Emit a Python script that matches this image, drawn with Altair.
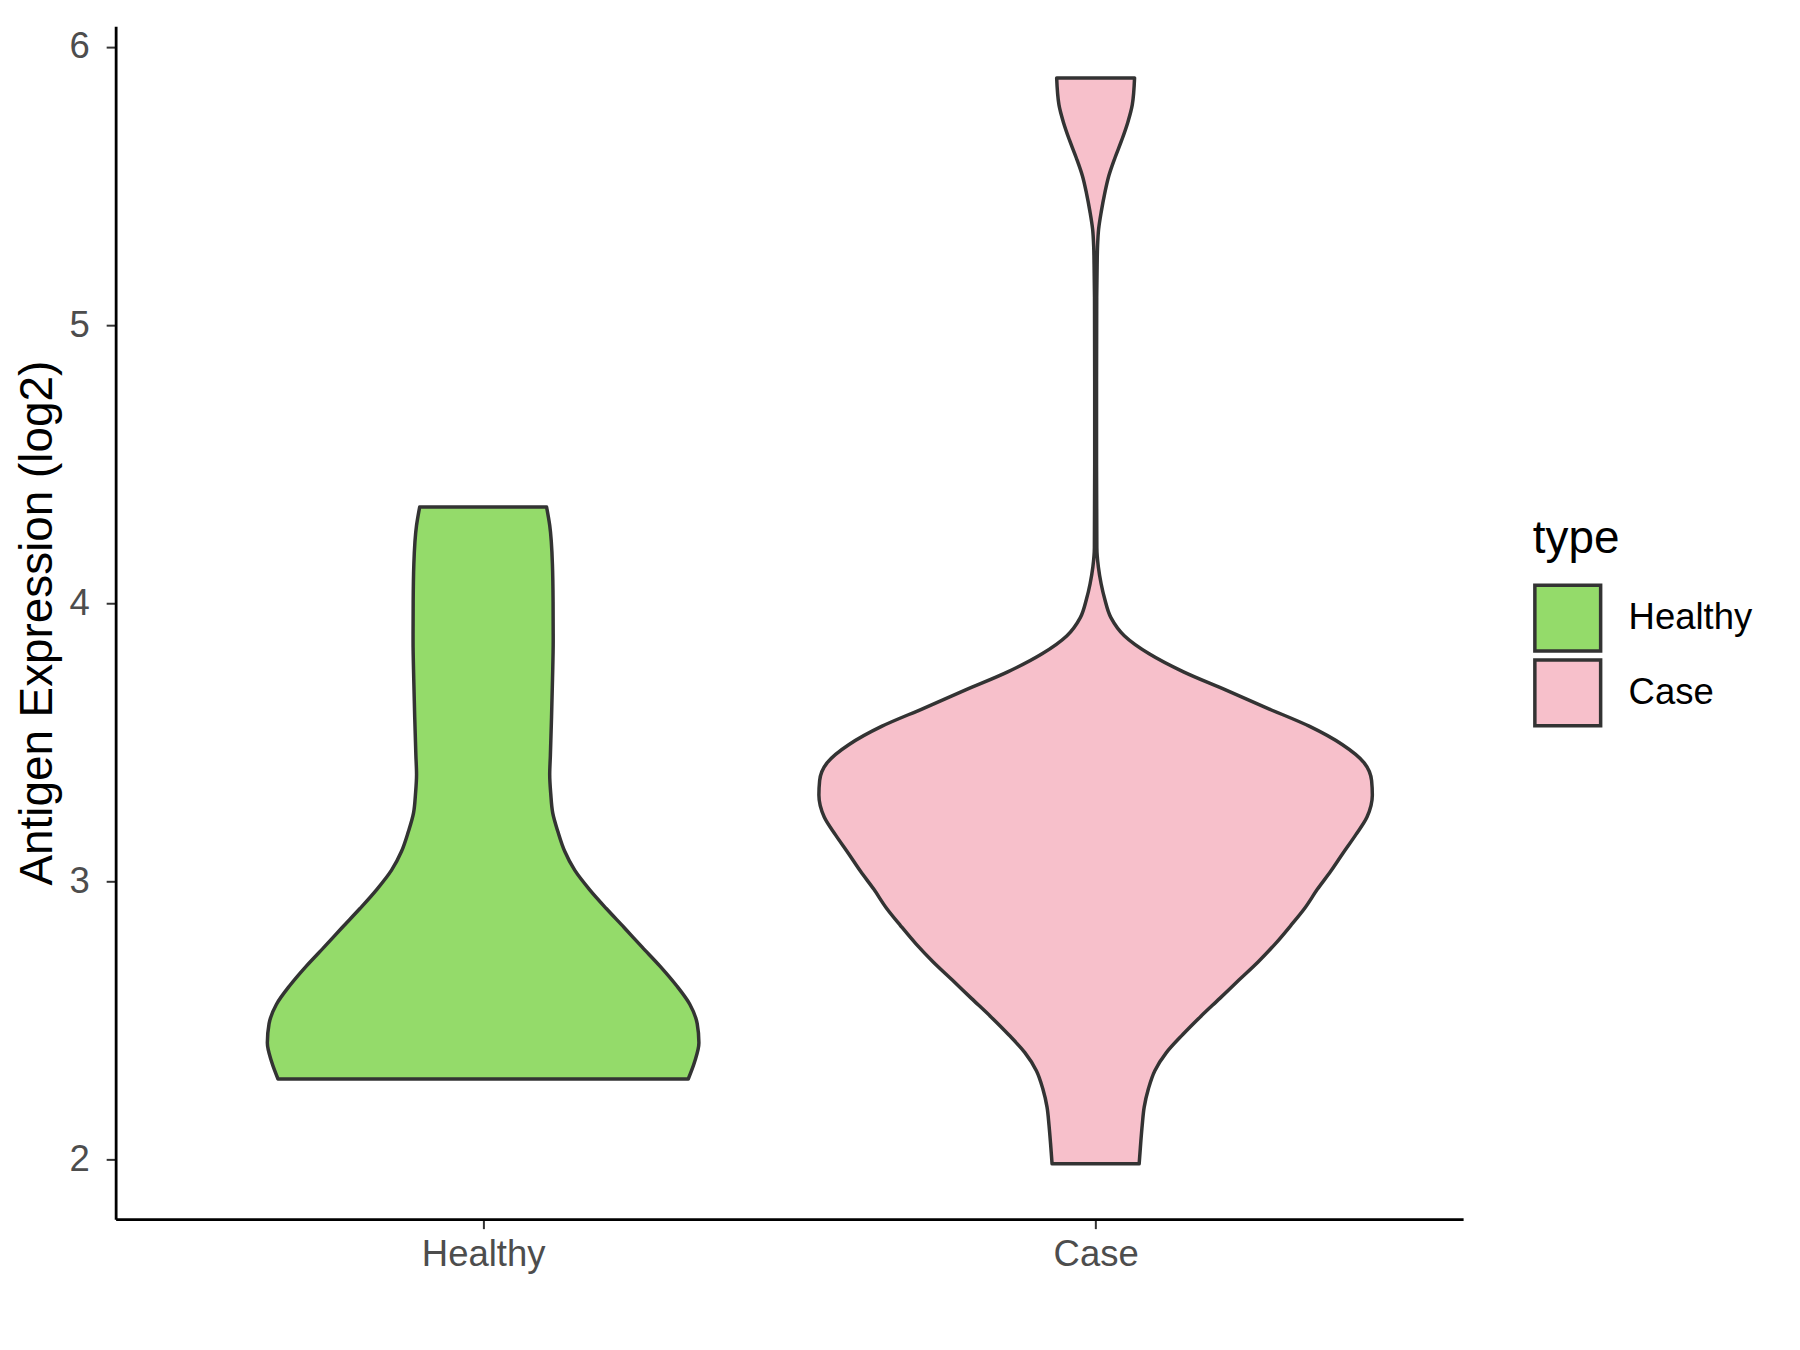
import altair as alt
import pandas as pd

categories = ["Healthy", "Case"]
fill_colors = ["#94DB6A", "#F7C0CB"]

# Healthy violin: expression value (log2) and density half-width
healthy_y = [2.289, 2.350, 2.419, 2.488, 2.557, 2.626, 2.695, 2.764, 2.833, 2.902,
             2.971, 3.040, 3.108, 3.177, 3.246, 3.315, 3.384, 3.453, 3.591, 3.729,
             3.866, 4.004, 4.142, 4.280, 4.346]
healthy_hw = [0.3349, 0.3452, 0.3523, 0.3495, 0.3376, 0.3153, 0.2887, 0.2593, 0.2305, 0.2011,
              0.1734, 0.1495, 0.1332, 0.1223, 0.1136, 0.1104, 0.1087, 0.1098, 0.1117, 0.1133,
              0.1144, 0.1142, 0.1131, 0.1087, 0.1036]

# Case violin
case_y = [1.984, 2.058, 2.123, 2.188, 2.253, 2.319, 2.384, 2.449, 2.514, 2.579,
          2.645, 2.710, 2.775, 2.840, 2.905, 2.971, 3.036, 3.101, 3.166, 3.231,
          3.310, 3.362, 3.427, 3.492, 3.557, 3.622, 3.688, 3.753, 3.818, 3.883,
          3.948, 4.014, 4.070, 4.130, 4.200, 4.500, 4.800, 5.100, 5.217, 5.281,
          5.345, 5.409, 5.473, 5.537, 5.601, 5.665, 5.729, 5.793, 5.889]
case_hw = [0.0711, 0.0736, 0.0761, 0.0793, 0.0861, 0.0967, 0.1155, 0.1423, 0.1716, 0.2028,
           0.2340, 0.2652, 0.2933, 0.3183, 0.3420, 0.3620, 0.3838, 0.4038, 0.4244, 0.4431,
           0.4518, 0.4506, 0.4381, 0.4025, 0.3495, 0.2808, 0.2122, 0.1435, 0.0874, 0.0468,
           0.0250, 0.0150, 0.0090, 0.0045, 0.0020, 0.0015, 0.0015, 0.0018, 0.0025, 0.0031,
           0.0049, 0.0093, 0.0148, 0.0216, 0.0315, 0.0426, 0.0525, 0.0599, 0.0636]

y_ticks = [2, 3, 4, 5, 6]

rows = []
for i, (cat, ys, hws) in enumerate([("Healthy", healthy_y, healthy_hw), ("Case", case_y, case_hw)]):
    center = i + 1
    for y, hw in zip(ys, hws):
        rows.append({"type": cat, "y": y, "lo": center - hw, "hi": center + hw})
df = pd.DataFrame(rows)

FONT = "Liberation Sans"
label_expr = " : ".join(
    [f"datum.value == {i + 1} ? '{c}'" for i, c in enumerate(categories[:-1])] + [f"'{categories[-1]}'"]
)

chart = alt.Chart(df).mark_area(
    orient="horizontal", interpolate="monotone", stroke="#333333", strokeWidth=3.5,
    opacity=1, fillOpacity=1, strokeJoin="round"
).encode(
    y=alt.Y("y:Q",
            scale=alt.Scale(domain=[1.785, 6.075], nice=False, zero=False),
            axis=alt.Axis(title="Antigen Expression (log2)", values=y_ticks, format="d",
                          grid=False, tickSize=9.5, tickWidth=2, tickColor="#333333",
                          domainColor="black", domainWidth=2.8,
                          labelFont=FONT, labelFontSize=36.6, labelColor="#4D4D4D",
                          labelPadding=17, titleFont=FONT, titleFontSize=46,
                          titleFontWeight="normal", titleColor="black", titlePadding=8)),
    x=alt.X("lo:Q", stack=None,
            scale=alt.Scale(domain=[0.4, 2.6], nice=False, zero=False),
            axis=alt.Axis(title=None, values=[1, 2], labelExpr=label_expr, grid=False,
                          tickSize=9.5, tickWidth=2, tickColor="#333333",
                          domainColor="black", domainWidth=2.8,
                          labelFont=FONT, labelFontSize=36.6, labelColor="#4D4D4D",
                          labelPadding=8)),
    x2="hi:Q",
    color=alt.Color("type:N",
                    scale=alt.Scale(domain=categories, range=fill_colors),
                    legend=alt.Legend(title="type", orient="none", legendX=1422, legendY=493,
                                      symbolType="square", symbolSize=4356,
                                      symbolStrokeColor="#333333", symbolStrokeWidth=3.5,
                                      symbolOpacity=1,
                                      titleFont=FONT, titleFontSize=46, titleFontWeight="normal",
                                      titleColor="black", titlePadding=20,
                                      labelFont=FONT, labelFontSize=36.6, labelColor="black",
                                      labelOffset=26, rowPadding=-11)),
    detail="type:N",
).properties(
    width=1352, height=1197,
    autosize=alt.AutoSizeParams(type="none"),
    padding={"left": 108, "top": 16, "right": 330, "bottom": 120},
).configure(background="white").configure_view(stroke="transparent", strokeWidth=0)

chart.save("out.html", embed_options={"renderer": "svg", "actions": False})
